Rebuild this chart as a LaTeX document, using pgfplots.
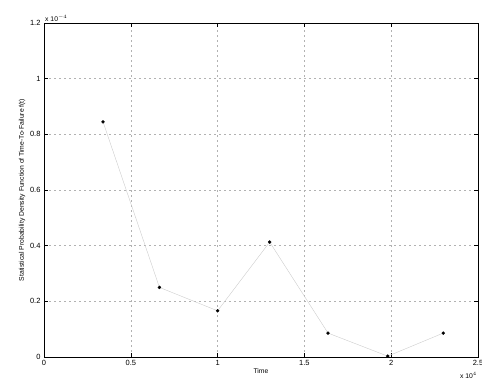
\documentclass[border=0pt]{standalone}
\usepackage{pgfplots}
\pgfplotsset{compat=1.18}
\usepackage{fontspec}
\setmainfont{Liberation Sans}
\begin{document}
\begin{tikzpicture}
\useasboundingbox (0,0) rectangle (482pt,384pt);
\begin{axis}[
  at={(44pt,27pt)}, anchor=south west,
  scale only axis, width=434pt, height=334pt,
  xmin=0, xmax=2.5, ymin=0, ymax=1.2,
  xtick={0,0.5,1,1.5,2,2.5}, xticklabels={0,0.5,1,1.5,2,2.5},
  ytick={0,0.2,0.4,0.6,0.8,1,1.2}, yticklabels={0,0.2,0.4,0.6,0.8,1,1.2},
  tick align=inside, tick style={black, line width=0.5pt},
  major tick length=4pt,
  grid=major, grid style={dash pattern=on 2pt off 3pt, gray!60, line width=0.5pt},
  axis line style={black, line width=0.7pt},
  tick label style={font=\fontsize{7.5}{8.5}\selectfont},
  /pgf/number format/assume math mode=true,
  xlabel={Time}, ylabel={Statistical Probability Density Function of Time-To-Failure f(t)},
  label style={font=\fontsize{6.8}{7.8}\selectfont},
  xlabel style={yshift=4pt},
  ylabel style={yshift=-2pt},
  clip=false,
]
\addplot[gray!40, line width=0.4pt, mark=*, mark size=1.5pt, mark options={black, fill=black}]
  coordinates {(0.34,0.845) (0.665,0.25) (1.0,0.166) (1.30,0.413) (1.636,0.086) (1.98,0.003) (2.30,0.086)};
\node[font=\fontsize{6.8}{7.8}\selectfont, anchor=south west, inner sep=1pt] at (rel axis cs:0,1) {x 10$^{-4}$};
\node[font=\fontsize{6.8}{7.8}\selectfont, anchor=north east, inner sep=1pt] at ([yshift=-14pt]rel axis cs:1,0) {x 10$^{4}$};
\end{axis}
\end{tikzpicture}
\end{document}
